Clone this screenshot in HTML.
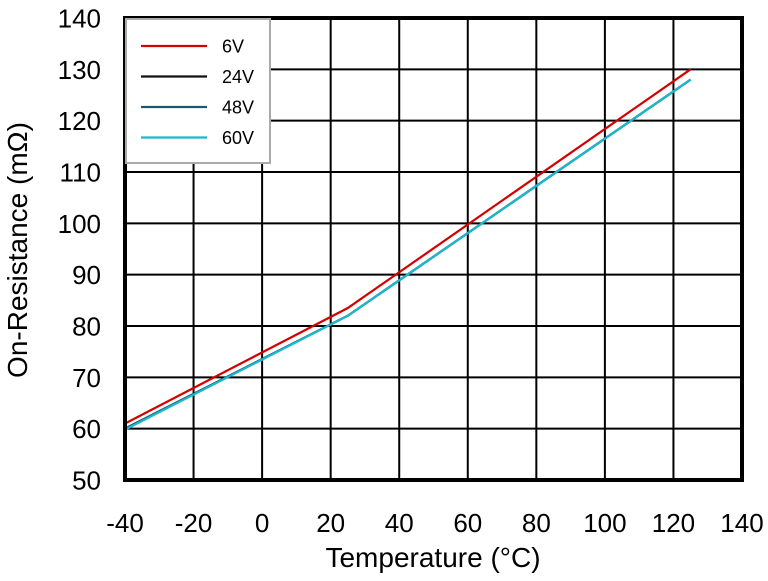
<!DOCTYPE html>
<html><head><meta charset="utf-8"><style>
body{margin:0;background:#fff;}
svg text{font-family:"Liberation Sans",Arial,sans-serif;}
</style></head><body>
<svg width="768" height="576" viewBox="0 0 768 576" xmlns="http://www.w3.org/2000/svg">
<g id="grid"></g><g id="series"></g><g id="axes"></g><g id="legend"></g>
</svg>
<script>
const xTicks=[-40,-20,0,20,40,60,80,100,120,140];
const yTicks=[50,60,70,80,90,100,110,120,130,140];
const temps=[-40,25,125];
const v6=[61,83.5,130];
const v24=[60,82,128];
const v48=[60,82,128];
const v60=[59.8,82,128];
const names=["6V","24V","48V","60V"];
const colors=["#d40000","#111111","#1a5a70","#1ab8cc"];
const L=125,R=742,T=18,B=480;
const X=v=>L+(v+40)/180*(R-L);
const Y=v=>B-(v-50)/90*(B-T);
const NS="http://www.w3.org/2000/svg";
function mk(tag,attrs,parent){const e=document.createElementNS(NS,tag);for(const k in attrs)e.setAttribute(k,attrs[k]);document.getElementById(parent).appendChild(e);return e;}
xTicks.forEach(t=>{const l=mk('line',{x1:X(t),x2:X(t),y1:T,y2:B,stroke:'#000','stroke-width':2},'grid');


const tx=mk('text',{x:X(t),y:532,'text-anchor':'middle','font-size':26},'axes');tx.textContent=t;

});
yTicks.forEach(t=>{const l=mk('line',{x1:L,x2:R,y1:Y(t),y2:Y(t),stroke:'#000','stroke-width':2},'grid');


const tx=mk('text',{x:101,y:Y(t)+9.5,'text-anchor':'end','font-size':26},'axes');tx.textContent=t;

});
const fr=mk('rect',{x:L,y:T,width:R-L,height:B-T,fill:'none',stroke:'#000','stroke-width':4},'axes');


const xt=mk('text',{x:433,y:567,'text-anchor':'middle','font-size':28},'axes');xt.textContent='Temperature (°C)';


const yt=mk('text',{x:0,y:0,'text-anchor':'middle','font-size':28,transform:'translate(27,250) rotate(-90)'},'axes');yt.textContent='On-Resistance (mΩ)';


[v6,v24,v48,v60].forEach((s,i)=>{const p=mk('polyline',{points:temps.map((t,j)=>X(t)+','+Y(s[j])).join(' '),fill:'none',stroke:colors[i],'stroke-width':2.2},'series');

});
const lb=mk('rect',{x:126,y:19,width:144,height:144,fill:'#fff',stroke:'#aaa','stroke-width':2},'legend');


names.forEach((n,i)=>{const y=46+i*30.5;
const l=mk('line',{x1:141,x2:207,y1:y,y2:y,stroke:colors[i],'stroke-width':2.2},'legend');


const t=mk('text',{x:222,y:y+6.5,'font-size':18},'legend');t.textContent=n;

});
</script>
</body></html>
